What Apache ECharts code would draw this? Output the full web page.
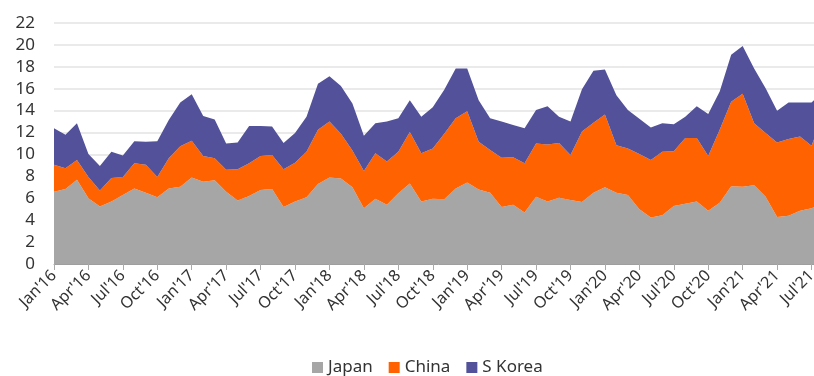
<!DOCTYPE html>
<html>
<head>
<meta charset="utf-8">
<script src="https://cdn.jsdelivr.net/npm/echarts@6/dist/echarts.min.js"></script>
<style>
html,body{margin:0;padding:0;background:#fff;overflow:hidden;width:814px;height:376px;}
#chart{width:823px;height:376px;}
</style>
</head>
<body>
<div id="chart"></div>
<script>
var categories = [
"Jan'16","Feb'16","Mar'16","Apr'16","May'16","Jun'16","Jul'16","Aug'16","Sep'16","Oct'16","Nov'16","Dec'16",
"Jan'17","Feb'17","Mar'17","Apr'17","May'17","Jun'17","Jul'17","Aug'17","Sep'17","Oct'17","Nov'17","Dec'17",
"Jan'18","Feb'18","Mar'18","Apr'18","May'18","Jun'18","Jul'18","Aug'18","Sep'18","Oct'18","Nov'18","Dec'18",
"Jan'19","Feb'19","Mar'19","Apr'19","May'19","Jun'19","Jul'19","Aug'19","Sep'19","Oct'19","Nov'19","Dec'19",
"Jan'20","Feb'20","Mar'20","Apr'20","May'20","Jun'20","Jul'20","Aug'20","Sep'20","Oct'20","Nov'20","Dec'20",
"Jan'21","Feb'21","Mar'21","Apr'21","May'21","Jun'21","Jul'21","Aug'21"
];
var japan = [
6.6,6.85,7.7,6.0,5.25,5.7,6.3,6.9,6.5,6.1,6.9,7.05,
7.9,7.5,7.65,6.6,5.8,6.2,6.75,6.85,5.2,5.7,6.1,7.3,
7.9,7.8,7.0,5.1,5.95,5.4,6.45,7.35,5.7,5.95,5.9,6.9,
7.45,6.8,6.5,5.2,5.4,4.7,6.15,5.7,6.05,5.85,5.65,6.5,
7.0,6.5,6.3,5.0,4.25,4.45,5.3,5.5,5.7,4.85,5.6,7.1,
7.05,7.2,6.15,4.3,4.4,4.85,5.1,5.5
];
var china = [
2.45,1.9,1.8,1.95,1.45,2.15,1.65,2.3,2.55,1.85,2.75,3.7,
3.35,2.35,2.0,2.0,2.85,3.0,3.1,3.1,3.45,3.55,4.15,4.95,
5.1,4.1,3.35,3.4,4.15,3.95,3.8,4.7,4.4,4.6,6.0,6.4,
6.5,4.35,3.9,4.5,4.35,4.5,4.85,5.2,5.0,4.1,6.45,6.4,
6.65,4.35,4.25,5.05,5.25,5.8,5.0,6.0,5.8,5.0,6.65,7.7,
8.5,5.65,5.8,6.8,7.0,6.8,5.7,8.0
];
var korea = [
3.35,3.05,3.35,2.1,2.25,2.4,1.95,2.0,2.1,3.25,3.5,4.0,
4.25,3.65,3.55,2.4,2.45,3.4,2.75,2.6,2.4,2.7,3.2,4.2,
4.15,4.35,4.3,3.2,2.75,3.65,3.05,2.9,3.35,3.75,4.0,4.55,
3.9,3.8,2.9,3.3,2.95,3.2,3.05,3.5,2.4,3.05,3.85,4.75,
4.1,4.55,3.5,3.2,2.95,2.6,2.45,1.95,2.9,3.85,3.5,4.3,
4.35,5.0,4.1,2.9,3.35,3.1,3.95,2.2
];
var yTicks = {min:0, max:22, interval:2};

var chart = echarts.init(document.getElementById('chart'), null, {renderer:'canvas'});
function areaSeries(name, data, color){
  return {
    name:name, type:'line', stack:'total', data:data,
    showSymbol:false, symbol:'none',
    lineStyle:{width:0, color:color},
    itemStyle:{color:color},
    areaStyle:{color:color, opacity:1},
    emphasis:{disabled:true}
  };
}
chart.setOption({
  animation:false,
  grid:{left:54, right:0, top:23, bottom:112, containLabel:false},
  legend:{
    left:307, top:354, itemWidth:11, itemHeight:11, itemGap:16, icon:'rect',
    textStyle:{fontFamily:'Noto Sans', fontSize:17, color:'#333'},
    data:['Japan','China','S Korea']
  },
  xAxis:{
    type:'category', data:categories, boundaryGap:false,
    axisLine:{lineStyle:{color:'#9e9e9e', width:1}},
    axisTick:{show:true, interval:2, length:6, lineStyle:{color:'#aaaaaa'}},
    axisLabel:{interval:2, rotate:45, margin:9, fontFamily:'Noto Sans', fontSize:16, color:'#333'}
  },
  yAxis:{
    type:'value', min:yTicks.min, max:yTicks.max, interval:yTicks.interval,
    axisLine:{show:false}, axisTick:{show:false},
    axisLabel:{margin:19, fontFamily:'Noto Sans', fontSize:17, color:'#333'},
    splitLine:{lineStyle:{color:'#e3e3e3', width:1.5}}
  },
  series:[
    areaSeries('Japan', japan, '#a6a6a6'),
    areaSeries('China', china, '#ff6200'),
    areaSeries('S Korea', korea, '#525199')
  ]
});
</script>
</body>
</html>
